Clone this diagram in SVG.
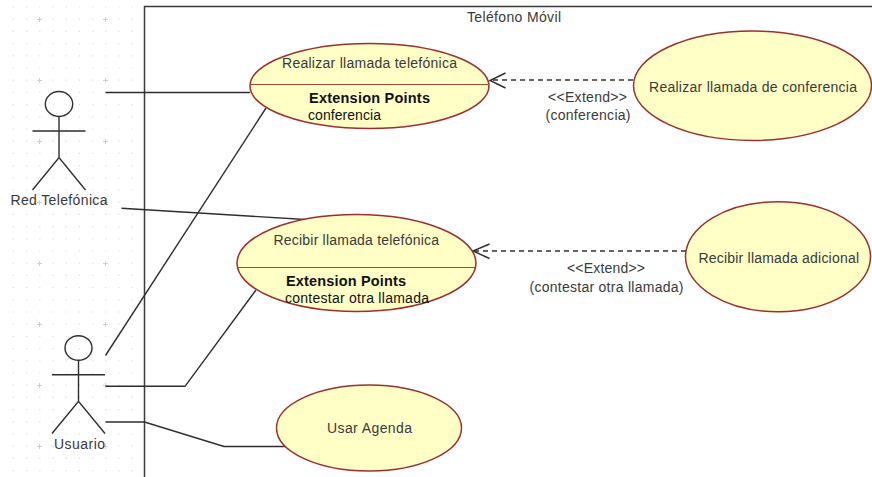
<svg xmlns="http://www.w3.org/2000/svg" width="872" height="477" viewBox="0 0 872 477">
  <style>
    text { font-family: "Liberation Sans", Arial, sans-serif; font-size: 14px; fill: #3a3a3a; }
    .b { font-weight: bold; fill: #111; font-size: 14.5px; }
    .k { fill: #111; }
    .uc { fill: #ffffc6; stroke: #9c2f2f; stroke-width: 1.5; }
    .div { stroke: #a8453a; stroke-width: 1.2; fill: none; }
    .ln { fill: none; stroke: #2e2e2e; stroke-width: 1.4; }
    .dash { fill: none; stroke: #333; stroke-width: 1.4; stroke-dasharray: 5 4; }
    .a { fill: none; stroke: #2e2e2e; stroke-width: 1.4; }
    .frame { fill: none; stroke: #3a3a3a; stroke-width: 1.5; }
    .dots { fill: none; stroke: #dedede; stroke-width: 1.2; stroke-dasharray: 1.2 12; }
    .crosses { fill: none; stroke: #cfcfcf; stroke-width: 1; }
  </style>
  <rect width="872" height="477" fill="#fff"/>
  <g id="canvas-grid">
    <path class="dots" d="M12.8 7H140M12.8 19.2H140M12.8 31.4H140M12.8 43.6H140M12.8 55.8H140M12.8 68H140M12.8 80.2H140M12.8 92.4H140M12.8 104.6H140M12.8 116.8H140M12.8 129H140M12.8 141.2H140M12.8 153.4H140M12.8 165.6H140M12.8 177.8H140M12.8 190H140M12.8 202.2H140M12.8 214.4H140M12.8 226.6H140M12.8 238.8H140M12.8 251H140M12.8 263.2H140M12.8 275.4H140M12.8 287.6H140M12.8 299.8H140M12.8 312H140M12.8 324.2H140M12.8 336.4H140M12.8 348.6H140M12.8 360.8H140M12.8 373H140M12.8 385.2H140M12.8 397.4H140M12.8 409.6H140M12.8 421.8H140M12.8 434H140M12.8 446.2H140M12.8 458.4H140M12.8 470.6H140"/>
    <path class="crosses" d="M37 19.5h5M39.5 17v5M103 19.5h5M105.5 17v5M37 80.5h5M39.5 78v5M103 80.5h5M105.5 78v5M37 141.5h5M39.5 139v5M103 141.5h5M105.5 139v5M37 202.5h5M39.5 200v5M103 202.5h5M105.5 200v5M37 263.5h5M39.5 261v5M103 263.5h5M105.5 261v5M37 324.5h5M39.5 322v5M103 324.5h5M105.5 322v5M37 385.5h5M39.5 383v5M103 385.5h5M105.5 383v5M37 446.5h5M39.5 444v5M103 446.5h5M105.5 444v5"/>
  </g>
  <path id="frame" class="frame" d="M144.5 477V6.5H872"/>
  <text x="467" y="22" textLength="94" lengthAdjust="spacing">Teléfono Móvil</text>

  <g id="connectors">
    <path class="ln" d="M105.5 92.5H250"/>
    <path class="ln" d="M105.5 355.5L266 108"/>
    <path class="ln" d="M121.5 208.3L305 219.5"/>
    <path class="ln" d="M105.5 386.3H185L256 290"/>
    <path class="ln" d="M105.5 422H144.5L224 446.5H286"/>
    <path class="dash" d="M633 80H492"/>
    <path class="a" d="M505.5 73L490 80.5L505.5 88"/>
    <text x="548" y="102" textLength="79" lengthAdjust="spacing">&lt;&lt;Extend&gt;&gt;</text>
    <text x="545.5" y="120" textLength="85" lengthAdjust="spacing">(conferencia)</text>
    <path class="dash" d="M686 251H475"/>
    <path class="a" d="M489.5 244L473 251L489.5 258.5"/>
    <text x="567" y="272.5" textLength="78" lengthAdjust="spacing">&lt;&lt;Extend&gt;&gt;</text>
    <text x="529.5" y="291.5" textLength="154" lengthAdjust="spacing">(contestar otra llamada)</text>
  </g>

  <g id="actor-red">
    <ellipse class="ln" cx="59" cy="104" rx="13.7" ry="12.5"/>
    <path class="ln" d="M59 116.5V157.5M32.5 131H85.5M32.5 190L59 157.5L85.5 190"/>
    <text x="10.5" y="205" textLength="97" lengthAdjust="spacing">Red Telefónica</text>
  </g>
  <g id="actor-usuario">
    <ellipse class="ln" cx="78.5" cy="348" rx="13.5" ry="12.3"/>
    <path class="ln" d="M78.5 360.3V401.3M52 374.8H105M52 433.5L78.5 401.3L105 433.5"/>
    <text x="54" y="449" textLength="51" lengthAdjust="spacing">Usuario</text>
  </g>

  <g id="uc-realizar">
    <ellipse class="uc" cx="369.5" cy="86" rx="119.5" ry="42.5"/>
    <path class="div" d="M250 84.5H489"/>
    <text x="282" y="68" textLength="175" lengthAdjust="spacing">Realizar llamada telefónica</text>
    <text class="b" x="309" y="103" textLength="121" lengthAdjust="spacing">Extension Points</text>
    <text class="k" x="308" y="120" textLength="73" lengthAdjust="spacing">conferencia</text>
  </g>
  <g id="uc-recibir">
    <ellipse class="uc" cx="356.5" cy="263" rx="119.5" ry="48.5"/>
    <path class="div" d="M237 267.5H476"/>
    <text x="273.5" y="245" textLength="165.5" lengthAdjust="spacing">Recibir llamada telefónica</text>
    <text class="b" x="286" y="286" textLength="120" lengthAdjust="spacing">Extension Points</text>
    <text class="k" x="285" y="303" textLength="144" lengthAdjust="spacing">contestar otra llamada</text>
  </g>
  <g id="uc-conferencia">
    <ellipse class="uc" cx="752.5" cy="85.7" rx="119" ry="54.7"/>
    <text x="649" y="92" textLength="208" lengthAdjust="spacing">Realizar llamada de conferencia</text>
  </g>
  <g id="uc-adicional">
    <ellipse class="uc" cx="778" cy="256.7" rx="92.5" ry="55"/>
    <text x="698.5" y="262.5" textLength="160.5" lengthAdjust="spacing">Recibir llamada adicional</text>
  </g>
  <g id="uc-agenda">
    <ellipse class="uc" cx="369" cy="428" rx="92.5" ry="43"/>
    <text x="327" y="433" textLength="85" lengthAdjust="spacing">Usar Agenda</text>
  </g>
</svg>
